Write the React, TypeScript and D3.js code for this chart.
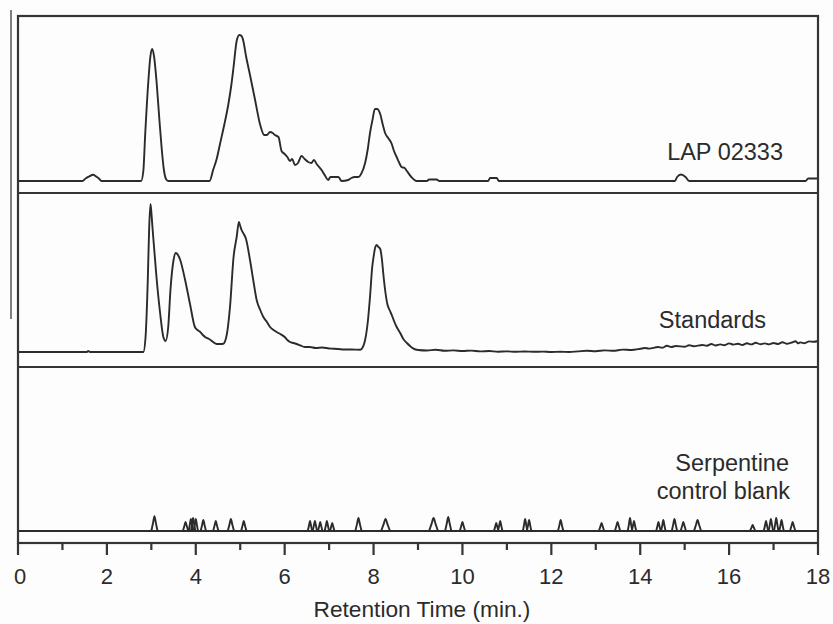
import React from "react";
import * as d3 from "d3";

// ---------- data (retention time in min, detector response in arbitrary units) ----------
const majorTicks = [0, 2, 4, 6, 8, 10, 12, 14, 16, 18];
const minorTicks = [1, 3, 5, 7, 9, 11, 13, 15, 17];

const traceNames = ["LAP 02333", "Standards"];
const serpentineLabel = ["Serpentine", "control blank"];
const xTitle = "Retention Time (min.)";

const lapTrace: [number, number][] = [
  [0, 0], [1.45, 0], [1.52, 2.5], [1.6, 4.5], [1.69, 6.3], [1.76, 4.5], [1.82, 2.5], [1.88, 0],
  [2.77, 0], [2.82, 10], [2.86, 45], [2.93, 98], [2.98, 125], [3.02, 132], [3.06, 125], [3.12, 98],
  [3.18, 62], [3.23, 34], [3.28, 12], [3.33, 2], [3.38, 0],
  [4.31, 0], [4.39, 11], [4.47, 22], [4.55, 38], [4.64, 56], [4.73, 76], [4.8, 96], [4.85, 114],
  [4.92, 140], [4.98, 146], [5.03, 145], [5.07, 140], [5.13, 125], [5.22, 106], [5.33, 82],
  [5.45, 56], [5.54, 46], [5.6, 46], [5.67, 49], [5.73, 48], [5.78, 46], [5.86, 44], [5.93, 30],
  [6.0, 27], [6.06, 24], [6.12, 20], [6.17, 22], [6.23, 16], [6.3, 18], [6.38, 25], [6.45, 22],
  [6.53, 19], [6.6, 18], [6.66, 21], [6.72, 17], [6.83, 11], [6.9, 6], [6.98, 1], [7.03, 4],
  [7.1, 4], [7.21, 4], [7.28, 0], [7.43, 1], [7.5, 3], [7.58, 4], [7.66, 4], [7.72, 7], [7.81, 18],
  [7.87, 32], [7.92, 48], [7.98, 62], [8.03, 72], [8.08, 72], [8.15, 67], [8.21, 56], [8.26, 48],
  [8.33, 43], [8.41, 37], [8.46, 30], [8.52, 24], [8.58, 18], [8.63, 14], [8.7, 13], [8.75, 10],
  [8.85, 4], [8.97, 0], [9.2, 0], [9.25, 1.5], [9.42, 1.5], [9.48, 0],
  [10.58, 0], [10.62, 3], [10.77, 3], [10.82, 0],
  [14.78, 0], [14.83, 4], [14.92, 6.5], [15.02, 4], [15.1, 0],
  [17.72, 0], [17.78, 2.5], [18, 2.5],
];

const standardsTrace: [number, number][] = [
  [0, 0], [1.55, 0], [1.58, 1], [1.62, 0], [2.82, 0], [2.87, 15], [2.92, 72], [2.95, 122],
  [2.98, 148], [3.0, 140], [3.03, 122], [3.07, 100], [3.11, 78], [3.2, 38], [3.27, 15],
  [3.32, 11], [3.38, 25], [3.43, 62], [3.5, 92], [3.55, 99], [3.6, 97], [3.65, 92], [3.76, 72],
  [3.87, 48], [3.98, 25], [4.04, 22], [4.1, 20], [4.16, 17], [4.21, 15], [4.3, 13], [4.39, 10],
  [4.47, 8], [4.55, 8], [4.62, 8.3], [4.7, 18], [4.77, 45], [4.85, 95], [4.92, 115], [4.97, 130],
  [5.0, 126], [5.03, 122], [5.08, 118], [5.13, 113], [5.22, 92], [5.3, 70], [5.37, 52], [5.45, 42],
  [5.52, 35], [5.6, 30], [5.67, 25], [5.75, 22], [5.82, 20], [5.9, 18], [6.0, 15], [6.06, 12],
  [6.12, 10], [6.2, 9], [6.27, 8], [6.35, 6.7], [6.45, 5], [6.57, 5], [6.7, 4], [6.85, 4.5],
  [7.0, 3.5], [7.09, 3.3], [7.2, 3], [7.35, 2.5], [7.5, 2.5], [7.7, 2.3], [7.76, 5], [7.81, 12],
  [7.87, 30], [7.92, 55], [7.97, 85], [8.0, 95], [8.04, 105], [8.07, 107], [8.11, 105],
  [8.15, 103], [8.19, 92], [8.22, 78], [8.26, 62], [8.31, 48], [8.36, 42], [8.41, 37], [8.46, 31],
  [8.52, 25], [8.6, 19], [8.67, 13], [8.75, 9], [8.82, 6], [8.9, 3.3], [9.0, 2.0],
  [9.2, 1.5], [9.4, 2.2], [9.6, 1.2], [9.8, 1.6], [10.0, 1.0], [10.2, 1.4], [10.4, 0.6],
  [10.6, 1.0], [10.8, 0.3], [11.0, 0.6], [11.2, 0.2], [11.4, 0.5], [11.6, 0.2], [11.8, 0.4],
  [12.0, 0.0], [12.2, 0.3], [12.4, 0.0], [12.6, 0.6], [12.8, 1.2], [13.0, 0.8], [13.2, 1.6],
  [13.4, 1.2], [13.6, 2.4], [13.8, 2.0], [14.0, 3.2], [14.1, 4.0], [14.2, 3.4], [14.4, 5.0],
  [14.5, 4.2], [14.6, 6.2], [14.7, 5.0], [14.8, 6.0], [15.0, 5.2], [15.1, 6.8], [15.2, 5.8],
  [15.4, 7.0], [15.5, 6.2], [15.6, 8.0], [15.7, 6.5], [15.8, 7.6], [15.9, 6.8], [16.0, 8.6],
  [16.1, 7.4], [16.2, 8.2], [16.3, 7.0], [16.4, 8.8], [16.5, 7.6], [16.6, 9.2], [16.7, 7.8],
  [16.8, 8.6], [16.9, 7.6], [17.0, 9.0], [17.1, 8.0], [17.2, 9.8], [17.3, 8.2], [17.4, 9.4],
  [17.5, 10.8], [17.55, 8.6], [17.6, 9.6], [17.7, 8.8], [17.8, 10.6], [17.9, 10.2], [18.0, 11.0],
];

const serpentinePeakTimes = [
  3.07, 3.77, 3.89, 3.94, 4.0, 4.17, 4.45, 4.79, 5.08, 6.57, 6.68, 6.8, 6.95, 7.07, 7.66, 8.27,
  9.35, 9.68, 10.0, 10.76, 10.85, 11.41, 11.5, 12.21, 13.13, 13.49, 13.77, 13.86, 14.41, 14.52,
  14.77, 14.97, 15.29, 16.53, 16.83, 16.94, 17.06, 17.18, 17.43,
];
const serpentinePeakHeights = [
  14.7, 9, 12, 13, 12, 11, 10, 12, 10, 10, 10, 9, 10, 8, 13, 12,
  13, 14, 9, 8, 10, 12, 11, 11, 8, 9, 13, 10, 9, 11,
  12, 9, 11, 6, 10, 12, 13, 11, 9,
];
const serpentinePeakWidths = [
  0.07, 0.06, 0.05, 0.05, 0.05, 0.06, 0.06, 0.07, 0.06, 0.05, 0.05, 0.05, 0.05, 0.05, 0.07, 0.1,
  0.1, 0.07, 0.06, 0.05, 0.05, 0.05, 0.05, 0.06, 0.06, 0.06, 0.05, 0.05, 0.05, 0.05,
  0.06, 0.06, 0.08, 0.06, 0.05, 0.05, 0.05, 0.05, 0.06,
];

// ---------- layout ----------
const W = 833;
const H = 624;
const X0 = 18;
const X1 = 818;
const TOP = 16;
const AXIS_Y = 543;
const DIV1 = 193;
const DIV2 = 367;
const BASE_LAP = 181;
const BASE_STD = 352;
const BASE_SERP = 531;
const INK = "#2b2b2b";
const FONT = "'Liberation Sans', Arial, Helvetica, sans-serif";

export default function App() {
  const x = d3.scaleLinear().domain([0, 18]).range([X0, X1]);
  const yFor = (base: number) => d3.scaleLinear().domain([0, 150]).range([base, base - 150]);
  const yLap = yFor(BASE_LAP);
  const yStd = yFor(BASE_STD);
  const ySerp = yFor(BASE_SERP);

  const lineOf = (ys: d3.ScaleLinear<number, number>) =>
    d3
      .line<[number, number]>()
      .x((d) => x(d[0]))
      .y((d) => ys(d[1]))
      .curve(d3.curveMonotoneX);

  const lapPath = lineOf(yLap)(lapTrace) || "";
  const stdPath = lineOf(yStd)(standardsTrace) || "";
  const serpBase = lineOf(ySerp)([[0, 0], [18, 0]]) || "";
  const serpSpikes = serpentinePeakTimes.map((t, i) => {
    const h = serpentinePeakHeights[i];
    const w = serpentinePeakWidths[i];
    const pts: [number, number][] = [
      [t - w, 0],
      [t - w * 0.45, h * 0.55],
      [t, h],
      [t + w * 0.45, h * 0.55],
      [t + w, 0],
    ];
    return lineOf(ySerp)(pts) || "";
  });

  return (
    <svg
      width={W}
      height={H}
      viewBox={`0 0 ${W} ${H}`}
      style={{ position: "absolute", left: 0, top: 0, background: "#fdfdfd" }}
    >
      <rect x={0} y={0} width={W} height={H} fill="#fdfdfd" />
      {/* left scale bar */}
      <line x1={11} x2={11} y1={10} y2={319} stroke="#555" strokeWidth={1.5} />

      {/* traces */}
      <g fill="none" stroke={INK} strokeWidth={1.9} strokeLinejoin="round">
        <path d={lapPath} />
        <path d={stdPath} />
        <path d={serpBase} />
        {serpSpikes.map((d, i) => (
          <path key={i} d={d} />
        ))}
      </g>

      {/* frame and panel dividers */}
      <g stroke="#353535" strokeWidth={2.2} fill="none">
        <rect x={X0} y={TOP} width={X1 - X0} height={AXIS_Y - TOP} />
        <line x1={X0} x2={X1} y1={DIV1} y2={DIV1} />
        <line x1={X0} x2={X1} y1={DIV2} y2={DIV2} />
      </g>

      {/* x axis ticks */}
      <g stroke="#353535" strokeWidth={2.2}>
        {majorTicks.map((t) => (
          <line key={"M" + t} x1={x(t)} x2={x(t)} y1={AXIS_Y} y2={AXIS_Y + 12} />
        ))}
        {minorTicks.map((t) => (
          <line key={"m" + t} x1={x(t)} x2={x(t)} y1={AXIS_Y} y2={AXIS_Y + 7} />
        ))}
      </g>
      <g fill={INK} fontFamily={FONT} fontSize={22} textAnchor="middle">
        {majorTicks.map((t) => (
          <text key={"l" + t} x={x(t) + (t === 0 ? 2 : 0)} y={584}>
            {t}
          </text>
        ))}
      </g>
      <text x={422} y={617} fill={INK} fontFamily={FONT} fontSize={22.7} textAnchor="middle">
        {xTitle}
      </text>

      {/* trace labels */}
      <g fill={INK} fontFamily={FONT} fontSize={23.5} textAnchor="end">
        <text x={783} y={160}>{traceNames[0]}</text>
        <text x={766} y={328}>{traceNames[1]}</text>
        <text x={789} y={471}>{serpentineLabel[0]}</text>
        <text x={790} y={499}>{serpentineLabel[1]}</text>
      </g>
    </svg>
  );
}
